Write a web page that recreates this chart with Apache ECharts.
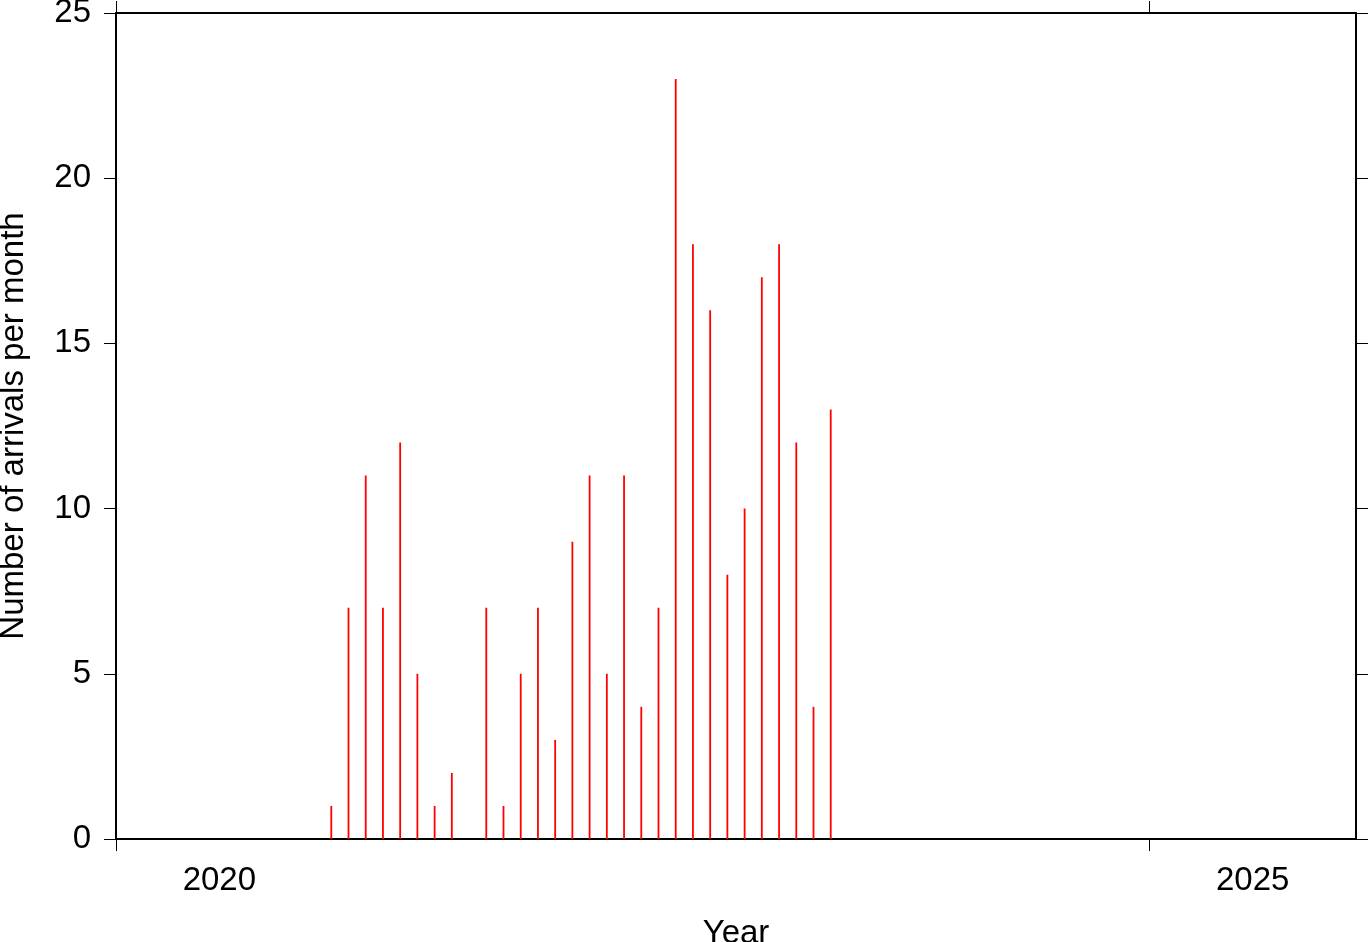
<!DOCTYPE html>
<html>
<head>
<meta charset="utf-8">
<script src="https://cdn.jsdelivr.net/npm/echarts@6/dist/echarts.min.js"></script>
<style>
html,body{margin:0;padding:0;background:#fff;}
#chart{width:1369px;height:942px;}
</style>
</head>
<body>
<div id="chart"></div>
<script>
// Months (mid-month bars) and arrival counts
const months = [
  '2021-01','2021-02','2021-03','2021-04','2021-05','2021-06','2021-07','2021-08','2021-09','2021-10','2021-11','2021-12',
  '2022-01','2022-02','2022-03','2022-04','2022-05','2022-06','2022-07','2022-08','2022-09','2022-10','2022-11','2022-12',
  '2023-01','2023-02','2023-03','2023-04','2023-05','2023-06'
];
const arrivals = [
  1, 7, 11, 7, 12, 5, 1, 2, 0, 7, 1, 5,
  7, 3, 9, 11, 5, 11, 4, 7, 23, 18, 16, 8,
  10, 17, 18, 12, 4, 13
];
const yearTicks = [2020, 2025];
const yTicks = [0, 5, 10, 15, 20, 25];

const FONT = 'Liberation Sans, Arial, Helvetica, sans-serif';
const FS = 33;

function monthToYear(m) {
  const [y, mo] = m.split('-').map(Number);
  return y + (mo - 0.5) / 12;
}
const data = months.map((m, i) => [monthToYear(m), arrivals[i]]);

const chart = echarts.init(document.getElementById('chart'), null, {renderer: 'canvas'});
const lineStyle = {color: '#000', width: 2};
const tickStyle = {color: '#000', width: 1};

chart.setOption({
  animation: false,
  backgroundColor: '#fff',
  grid: {left: 116, right: 13, top: 13, bottom: 103, show: false, containLabel: false, outerBoundsMode: 'none'},
  xAxis: [{
    type: 'value', min: 2020, max: 2026, position: 'bottom',
    name: 'Year', nameLocation: 'middle', nameGap: 78,
    nameTextStyle: {fontFamily: FONT, fontSize: FS, color: '#000'},
    axisLine: {show: true, lineStyle: lineStyle, onZero: false},
    axisTick: {show: true, length: 12, lineStyle: tickStyle, customValues: yearTicks},
    axisLabel: {
      show: true, margin: 25, fontFamily: FONT, fontSize: FS, color: '#000',
      customValues: yearTicks.map(v => v + 0.5),
      formatter: v => String(Math.floor(v))
    },
    splitLine: {show: false}
  }, {
    type: 'value', min: 2020, max: 2026, position: 'top',
    axisLine: {show: true, lineStyle: lineStyle, onZero: false},
    axisTick: {show: true, length: 12, lineStyle: tickStyle, customValues: yearTicks},
    axisLabel: {show: false},
    splitLine: {show: false}
  }],
  yAxis: [{
    type: 'value', min: 0, max: 25, interval: 5, position: 'left',
    name: 'Number of arrivals per month', nameLocation: 'middle', nameGap: 86,
    nameTextStyle: {fontFamily: FONT, fontSize: FS, color: '#000'},
    axisLine: {show: true, lineStyle: lineStyle, onZero: false},
    axisTick: {show: true, length: 12, lineStyle: tickStyle},
    axisLabel: {show: true, margin: 25, fontFamily: FONT, fontSize: FS, color: '#000',
      formatter: v => String(v)},
    splitLine: {show: false}
  }, {
    type: 'value', min: 0, max: 25, interval: 5, position: 'right',
    axisLine: {show: true, lineStyle: lineStyle, onZero: false},
    axisTick: {show: true, length: 12, lineStyle: tickStyle},
    axisLabel: {show: false},
    splitLine: {show: false}
  }],
  series: [{
    type: 'bar',
    xAxisIndex: 0, yAxisIndex: 0,
    data: data,
    barWidth: 1.8,
    itemStyle: {color: '#ff0000'},
    z: 1
  }]
});
</script>
</body>
</html>
